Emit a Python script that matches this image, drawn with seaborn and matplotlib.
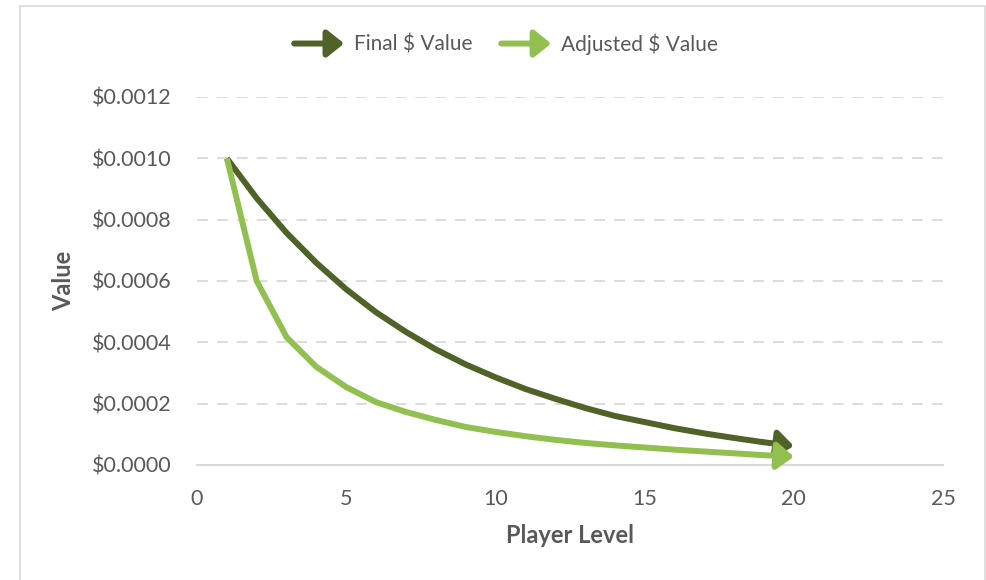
import matplotlib
matplotlib.use("Agg")
import matplotlib.pyplot as plt
from matplotlib.legend_handler import HandlerBase
from matplotlib.lines import Line2D
from matplotlib.patches import FancyArrowPatch, Rectangle
from matplotlib.ticker import FuncFormatter, MultipleLocator
import pandas as pd
import seaborn as sns

# Player levels and per-level values
levels = list(range(1, 21))
final_value = [0.00100, 0.00087, 0.000757, 0.000659, 0.000573, 0.000498, 0.000434,
               0.000377, 0.000328, 0.000286, 0.000248, 0.000216, 0.000186, 0.000160,
               0.000140, 0.000120, 0.000103, 0.000088, 0.000074, 0.000062]
adjusted_value = [0.00100, 0.000600, 0.000417, 0.000320, 0.000254, 0.000205, 0.000173,
                  0.000147, 0.000124, 0.000108, 0.000094, 0.000082, 0.000072, 0.000064,
                  0.000057, 0.000050, 0.000044, 0.000038, 0.000032, 0.000027]
series_names = ["Final $ Value", "Adjusted $ Value"]
series_colors = ["#4F6228", "#92C050"]

sns.set_theme(style="white")
plt.rcParams["font.family"] = ["Lato", "DejaVu Sans"]

df = pd.DataFrame({
    "Player Level": levels * 2,
    "Value": final_value + adjusted_value,
    "Series": [series_names[0]] * len(levels) + [series_names[1]] * len(levels),
})

fig = plt.figure(figsize=(9.86, 5.8), dpi=100)
ax = fig.add_axes([0.1998, 0.1983, 0.7566, 0.6345])

LW = 4.3
# Lines up to the second-to-last point; the final segment is drawn as an arrow
body = df.groupby("Series", sort=False).apply(lambda g: g.iloc[:-1]).reset_index(drop=True)
sns.lineplot(data=body, x="Player Level", y="Value", hue="Series",
             hue_order=series_names, palette=series_colors, linewidth=LW,
             ax=ax, legend=False, solid_capstyle="butt", solid_joinstyle="round")

for name, color, vals in zip(series_names, series_colors, [final_value, adjusted_value]):
    ax.annotate("", xy=(levels[-1], vals[-1]), xytext=(levels[-2], vals[-2]),
                arrowprops=dict(arrowstyle="-|>,head_length=0.5,head_width=0.4",
                                color=color, lw=LW, shrinkA=0, shrinkB=0,
                                mutation_scale=20), zorder=3)

ax.set_xlim(0, 25)
ax.set_ylim(0, 0.0012)
ax.xaxis.set_major_locator(MultipleLocator(5))
ax.yaxis.set_major_locator(MultipleLocator(0.0002))
ax.yaxis.set_major_formatter(FuncFormatter(lambda v, p: f"${v:.4f}"))

grid_c = "#D9D9D9"
ax.grid(axis="y", color=grid_c, linestyle=(0, (6, 5)), linewidth=1.3)
ax.grid(axis="x", visible=False)
for s in ["top", "right", "left"]:
    ax.spines[s].set_visible(False)
ax.spines["bottom"].set_color(grid_c)
ax.spines["bottom"].set_linewidth(1.5)
ax.tick_params(axis="both", length=0, labelsize=15.5, labelcolor="#595959")
ax.tick_params(axis="x", pad=17)
ax.tick_params(axis="y", pad=18)

ax.set_xlabel("Player Level", fontsize=17, fontweight="bold", color="#595959", labelpad=11)
ax.set_ylabel("Value", fontsize=17, fontweight="bold", color="#595959", labelpad=12)


class ArrowHandler(HandlerBase):
    def create_artists(self, legend, orig_handle, xdescent, ydescent, width,
                       height, fontsize, trans):
        y = height / 2 - ydescent
        arrow = FancyArrowPatch((-xdescent, y), (width - xdescent, y),
                                arrowstyle="-|>,head_length=0.5,head_width=0.4",
                                mutation_scale=20, lw=LW, color=orig_handle.get_color(),
                                shrinkA=0, shrinkB=0, transform=trans)
        return [arrow]


handles = [Line2D([], [], color=c) for c in series_colors]
fig.legend(handles, series_names, handler_map={Line2D: ArrowHandler()},
           loc="center", bbox_to_anchor=(0.513, 0.924), ncol=2, frameon=False,
           fontsize=15, labelcolor="#595959", handlelength=2.4, handletextpad=0.45,
           columnspacing=1.4)

fig.patches.append(Rectangle((20 / 986, -0.05), 965 / 986, 1.05 - 6 / 580,
                             transform=fig.transFigure, fill=False,
                             edgecolor="#D9D9D9", linewidth=1.2))

fig.savefig("out.png", dpi=100, facecolor="white")
